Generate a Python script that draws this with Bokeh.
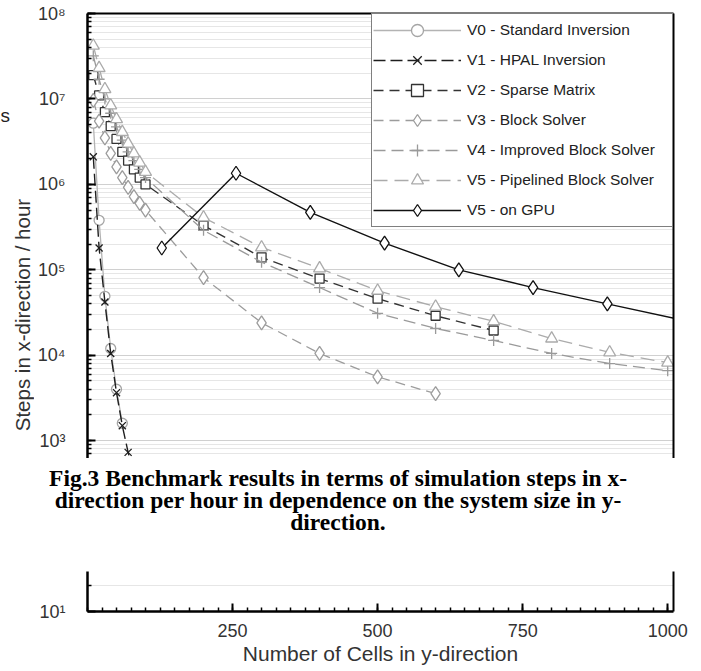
import math
from bokeh.plotting import figure
from bokeh.layouts import column, row
from bokeh.models import (FixedTicker, LogTicker, CustomJSTickFormatter, Legend, LegendItem,
                          LinearAxis, Range1d, Div)
from bokeh.core.properties import value
from bokeh.embed import file_html
from bokeh.resources import INLINE

# ---------------- data ----------------
v0_x = [10, 20, 30, 40, 50, 60]
v0_y = [5.2e6, 3.8e5, 4.9e4, 1.2e4, 4.0e3, 1.6e3]

v1_x = [10, 20, 30, 40, 50, 60, 70, 80, 90, 100]
v1_y = [2.1e6, 1.8e5, 4.2e4, 1.05e4, 3.65e3, 1.5e3, 730, 380, 220, 135]

v2_x = [10, 20, 30, 40, 50, 60, 70, 80, 90, 100, 200, 300, 400, 500, 600, 700]
v2_y = [1.9e7, 1.1e7, 7.0e6, 4.8e6, 3.4e6, 2.4e6, 1.9e6, 1.5e6, 1.2e6, 1.0e6,
        3.3e5, 1.4e5, 7.9e4, 4.6e4, 2.9e4, 1.95e4]

v3_x = [10, 20, 30, 40, 50, 60, 70, 80, 90, 100, 200, 300, 400, 500, 600]
v3_y = [9.6e6, 5.5e6, 3.5e6, 2.3e6, 1.6e6, 1.2e6, 9.2e5, 7.2e5, 6.0e5, 5.0e5,
        8.1e4, 2.4e4, 1.05e4, 5.6e3, 3.55e3]

v4_x = [10, 20, 30, 40, 50, 60, 70, 80, 90, 100, 200, 300, 400, 500, 600, 700, 800, 900, 1000]
v4_y = [3.2e7, 1.7e7, 1.0e7, 6.8e6, 4.7e6, 3.3e6, 2.4e6, 1.9e6, 1.5e6, 1.2e6,
        2.9e5, 1.23e5, 6.2e4, 3.1e4, 2.06e4, 1.49e4, 1.05e4, 8.0e3, 6.6e3]

v5_x = [10, 20, 30, 40, 50, 60, 70, 80, 90, 100, 200, 300, 400, 500, 600, 700, 800, 900, 1000]
v5_y = [4.2e7, 2.3e7, 1.3e7, 8.4e6, 5.8e6, 4.1e6, 3.0e6, 2.3e6, 1.8e6, 1.4e6,
        4.1e5, 1.83e5, 1.04e5, 5.7e4, 3.7e4, 2.5e4, 1.57e4, 1.08e4, 8.2e3]

gpu_x = [128, 256, 384, 512, 640, 768, 896, 1024]
gpu_y = [1.8e5, 1.35e6, 4.7e5, 2.05e5, 1.0e5, 6.2e4, 4.0e4, 2.6e4]

names = ["V0 - Standard Inversion", "V1 - HPAL Inversion", "V2 - Sparse Matrix",
         "V3 - Block Solver", "V4 - Improved Block Solver", "V5 - Pipelined Block Solver",
         "V5 - on GPU"]

x_major = [250, 500, 750, 1000]
y_title = "Steps in x-direction / hour"
x_title = "Number of Cells in y-direction"
caption = ["Fig.3 Benchmark results in terms of simulation steps in x-",
           "direction per hour in dependence on the system size in y-",
           "direction."]

# ---------------- shared settings ----------------
x_range = Range1d(0, 1010)
sup_fmt = CustomJSTickFormatter(code="""
    const sup = "\u2070\u00b9\u00b2\u00b3\u2074\u2075\u2076\u2077\u2078\u2079";
    const e = Math.round(Math.log10(tick));
    return "10" + String(e).split('').map(c => sup[parseInt(c)]).join('');
""")

def style_axis(ax):
    ax.axis_line_width = 2.5
    ax.axis_line_color = "black"
    ax.major_tick_in = 8
    ax.major_tick_out = 0
    ax.minor_tick_in = 4
    ax.minor_tick_out = 0
    ax.major_tick_line_width = 2
    ax.minor_tick_line_width = 1.5
    ax.major_label_text_font = "Liberation Sans"
    ax.major_label_text_font_size = "18px"
    ax.major_label_text_color = "#333333"
    ax.axis_label_text_font = "Liberation Sans"
    ax.axis_label_text_font_size = "21px"
    ax.axis_label_text_font_style = "normal"
    ax.axis_label_text_color = "#333333"

def border_axis(fig, side):
    ax = LinearAxis(ticker=FixedTicker(ticks=[]), axis_line_width=2, axis_line_color="black",
                    major_tick_out=0, major_tick_in=0, minor_tick_out=0, minor_tick_in=0,
                    major_label_standoff=0)
    fig.add_layout(ax, side)

def draw_series(fig):
    items = []
    specs = [
        (v0_x, v0_y, names[0], "#b3b3b3", "solid", "circle", 10, 1.3, "#a5a5a5"),
        (v1_x, v1_y, names[1], "#1e1e1e", "12 5", "x", 10, 1.4, None),
        (v2_x, v2_y, names[2], "#333333", "10 6", "square", 9, 1.4, None),
        (v3_x, v3_y, names[3], "#9c9c9c", "10 6", "diamond", 14, 1.3, None),
        (v4_x, v4_y, names[4], "#9a9a9a", "12 6", "cross", 11, 1.3, None),
        (v5_x, v5_y, names[5], "#ababab", "14 7", "triangle", 12, 1.3, None),
        (gpu_x, gpu_y, names[6], "#111111", "solid", "diamond", 14, 1.4, None),
    ]
    for xs, ys, name, color, dash, marker, size, lw, mcolor in specs:
        l = fig.line(xs, ys, line_color=color, line_width=lw, line_dash=dash)
        m = fig.scatter(xs, ys, marker=marker, size=size, line_color=mcolor or color,
                        fill_color="white", line_width=1.3)
        items.append(LegendItem(label=name, renderers=[l, m]))
    return items

# ---------------- title strip (y-axis title) ----------------
tf = figure(width=34, height=458, x_range=(0, 34), y_range=(0, 458), title=None,
            x_axis_location=None, y_axis_location=None,
            output_backend="svg", toolbar_location=None,
            min_border_left=0, min_border_right=0, min_border_top=0, min_border_bottom=0)
tf.grid.visible = False
tf.outline_line_color = None
tf.text(x=[22], y=[28], text=[y_title], angle=math.pi / 2,
        text_font=value("Liberation Sans"), text_font_size="20.5px", text_color="#333333",
        text_align="left", text_baseline="middle")
tf.text(x=[0], y=[353], text=["s"], text_font=value("Liberation Sans"),
        text_font_size="19px", text_color="#222222", text_align="left",
        text_baseline="alphabetic")

# ---------------- upper part of the chart ----------------
pt = figure(width=666, height=458, x_range=x_range, y_range=(619, 1e8), y_axis_type="log",
            x_axis_location=None, title=None, output_backend="svg", toolbar_location=None,
            min_border_left=53, min_border_right=27, min_border_top=13, min_border_bottom=0)
pt.outline_line_color = None
pt.xgrid.grid_line_color = None
pt.ygrid.grid_line_color = "#d0d0d0"
pt.ygrid.minor_grid_line_color = "#e6e6e6"
style_axis(pt.yaxis[0])
pt.yaxis.ticker = LogTicker(num_minor_ticks=10)
pt.yaxis.formatter = sup_fmt
pt.yaxis.major_label_standoff = 22
border_axis(pt, "right")
border_axis(pt, "above")
items = draw_series(pt)

legend = Legend(items=items, location="top_right", margin=0, padding=1, spacing=0,
                glyph_width=88, glyph_height=30, label_height=30, label_width=204,
                label_standoff=6, label_text_font="Liberation Sans",
                label_text_font_size="15.5px", label_text_color="#222222",
                border_line_color="black", border_line_width=1.5,
                background_fill_color="white", background_fill_alpha=1)
pt.add_layout(legend)

# ---------------- caption band ----------------
cap_html = ("<div style=\"font-family:'Liberation Serif','Times New Roman',serif;"
            "font-weight:bold;font-size:23.5px;line-height:21.8px;text-align:center;"
            "white-space:nowrap;color:black;padding:10px 12px 0 0;width:688px;\">"
            + "<br>".join(caption) + "</div>")
pc = Div(text=cap_html, width=700, height=113, margin=0)

# ---------------- lower part of the chart ----------------
pb = figure(width=700, height=100, x_range=x_range, y_range=(10, 29.4), y_axis_type="log",
            title=None, output_backend="svg", toolbar_location=None,
            min_border_left=87, min_border_right=27, min_border_top=0, min_border_bottom=60)
pb.outline_line_color = None
pb.xgrid.grid_line_color = None
pb.ygrid.grid_line_color = "#d0d0d0"
pb.ygrid.minor_grid_line_color = "#e6e6e6"
style_axis(pb.yaxis[0])
style_axis(pb.xaxis[0])
pb.yaxis.ticker = FixedTicker(ticks=[10], minor_ticks=[20])
pb.yaxis.formatter = sup_fmt
pb.yaxis.major_label_standoff = 22
pb.xaxis.ticker = FixedTicker(ticks=x_major, minor_ticks=list(range(0, 1011, 25)))
pb.xaxis.major_label_standoff = 12
pb.xaxis.axis_label = x_title
pb.xaxis.axis_label_standoff = 2
border_axis(pb, "right")
draw_series(pb)

layout = column(row(tf, pt, spacing=0), pc, pb, spacing=0)
open("out.html", "w").write(file_html(layout, INLINE))
